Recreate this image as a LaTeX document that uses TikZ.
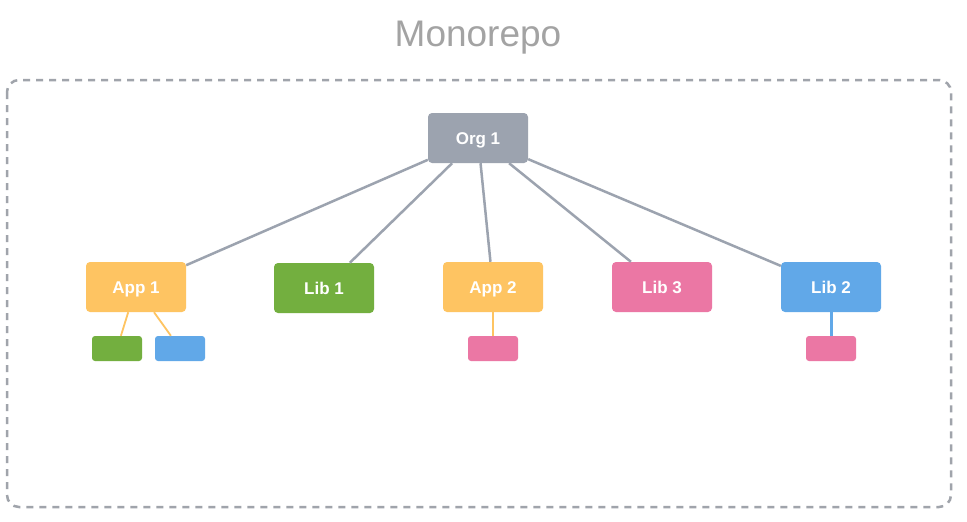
\documentclass[tikz,border=0pt]{standalone}
\usepackage{fontspec}
\setmainfont{Liberation Sans}
\definecolor{orgc}{HTML}{9CA3AF}
\definecolor{appc}{HTML}{FEC462}
\definecolor{libg}{HTML}{73AF3F}
\definecolor{libp}{HTML}{EB77A4}
\definecolor{libb}{HTML}{61A8E8}
\definecolor{titlec}{HTML}{A3A3A3}
\definecolor{dashc}{HTML}{A0A4AB}
\begin{document}
\begin{tikzpicture}[x=1pt,y=-1pt,
  box/.style={rounded corners=4pt,minimum width=100pt,minimum height=50pt,inner sep=0pt,text height=12.2pt,text depth=0pt,text=white,font=\fontsize{17}{20}\selectfont\bfseries},
  small/.style={rounded corners=3pt,minimum width=50pt,minimum height=25pt,inner sep=0pt},
  mainlink/.style={draw=orgc,line width=2.5pt},
]
\useasboundingbox (0,0) rectangle (967,522);
\fill[white] (0,0) rectangle (967,522);
\node[text=titlec,font=\fontsize{37}{40}\selectfont,text height=26.5pt,text depth=0pt,inner sep=0pt] (title) at (478,33) {Monorepo};
\draw[dashc,line width=2.5pt,dash pattern=on 7pt off 6pt,rounded corners=12pt] (7,80) rectangle (951,507);

\node[box,fill=orgc] (org) at (478,138) {Org 1};
\node[box,fill=appc] (app1) at (136,287) {App 1};
\node[box,fill=libg] (lib1) at (324,288) {Lib 1};
\node[box,fill=appc] (app2) at (493,287) {App 2};
\node[box,fill=libp] (lib3) at (662,287) {Lib 3};
\node[box,fill=libb] (lib2) at (831,287) {Lib 2};

\node[small,fill=libg] (s1) at (117,348.5) {};
\node[small,fill=libb] (s2) at (180,348.5) {};
\node[small,fill=libp] (s3) at (493,348.5) {};
\node[small,fill=libp] (s4) at (831,348.5) {};

\draw[mainlink] (org) -- (app1);
\draw[mainlink] (org) -- (lib1);
\draw[mainlink] (org) -- (app2);
\draw[mainlink] (org) -- (lib3);
\draw[mainlink] (org) -- (lib2);

\draw[appc,line width=1.8pt] (app1) -- (s1);
\draw[appc,line width=1.8pt] (app1) -- (s2);
\draw[appc,line width=1.8pt] (app2) -- (s3);
\draw[libb,line width=3pt] (lib2) -- (s4);
\end{tikzpicture}
\end{document}
